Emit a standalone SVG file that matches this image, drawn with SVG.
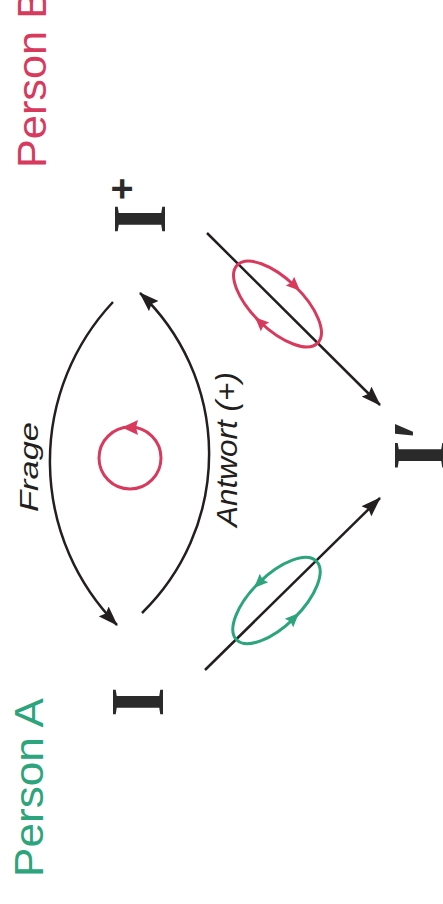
<svg xmlns="http://www.w3.org/2000/svg" width="443" height="904" viewBox="0 0 443 904">
  <style>
    .line { fill: none; stroke: #231f20; stroke-width: 2.5; }
    .red { fill: none; stroke: #d73a5c; stroke-width: 3; }
    .green { fill: none; stroke: #2ca47c; stroke-width: 3; }
    .sym { font-family: "Liberation Serif", "Times New Roman", serif; font-weight: bold; fill: #2a2a2a; }
    .lbl { font-family: "Liberation Sans", Arial, sans-serif; }
    .cap { font-family: "Liberation Sans", Arial, sans-serif; font-style: italic; fill: #231f20; }
  </style>
  <defs>
    <marker id="arrow" viewBox="0 0 20 14" markerUnits="userSpaceOnUse" markerWidth="20" markerHeight="14" refX="19" refY="7" orient="auto">
      <path d="M0,0 L20,7 L0,14 L3,7 Z" fill="#231f20"/>
    </marker>
    <path id="tip" d="M-7,-6 L7,0 L-7,6 L-5,0 Z"/>
  </defs>

  <!-- person labels -->
  <g id="person-b">
    <text class="lbl" fill="#d73a5c" font-size="40" textLength="178" lengthAdjust="spacingAndGlyphs" transform="translate(46,168) rotate(-90)">Person B</text>
  </g>
  <g id="person-a">
    <text class="lbl" fill="#2ca47c" font-size="40" textLength="179" lengthAdjust="spacingAndGlyphs" transform="translate(43,877) rotate(-90)">Person A</text>
  </g>

  <!-- states -->
  <g id="state-i">
    <text class="sym" font-size="76" text-anchor="middle" transform="translate(163,702) rotate(-90)">I</text>
  </g>
  <g id="state-i-plus">
    <text class="sym" font-size="76" text-anchor="middle" transform="translate(165,219) rotate(-90)">I</text>
    <text class="lbl" font-weight="bold" fill="#2a2a2a" font-size="38" text-anchor="middle" transform="translate(135,189) rotate(-90)">+</text>
  </g>
  <g id="state-i-prime">
    <text class="sym" font-size="76" transform="translate(445,470) rotate(-90)">I′</text>
  </g>

  <!-- connectors -->
  <g id="connectors">
    <path class="line" d="M113,302 A233,233 0 0 0 117,625" marker-end="url(#arrow)"/>
    <path class="line" d="M142,613 A222,222 0 0 0 140,293" marker-end="url(#arrow)"/>
    <line class="line" x1="207" y1="233" x2="380" y2="405" marker-end="url(#arrow)"/>
    <line class="line" x1="205" y1="670" x2="380" y2="498" marker-end="url(#arrow)"/>
  </g>

  <!-- edge labels -->
  <g id="label-frage">
    <text class="cap" font-size="26" textLength="90" lengthAdjust="spacingAndGlyphs" transform="translate(38,512) rotate(-90)">Frage</text>
  </g>
  <g id="label-antwort">
    <text class="cap" font-size="30" textLength="155" lengthAdjust="spacingAndGlyphs" transform="translate(237,527) rotate(-90)">Antwort (+)</text>
  </g>

  <!-- cycles -->
  <g id="cycle-center">
    <circle class="red" cx="130" cy="458" r="31"/>
    <path d="M122,427.5 L138,420 L136,427.5 L138,435 Z" fill="#d73a5c"/>
  </g>
  <g id="cycle-b">
    <ellipse class="red" cx="277.5" cy="304" rx="56" ry="25" transform="rotate(44 277.5 304)"/>
    <use href="#tip" fill="#d73a5c" transform="translate(295,286) rotate(44)"/>
    <use href="#tip" fill="#d73a5c" transform="translate(260,322) rotate(224)"/>
  </g>
  <g id="cycle-a">
    <ellipse class="green" cx="276.5" cy="600.5" rx="56" ry="25" transform="rotate(-44.5 276.5 600.5)"/>
    <use href="#tip" fill="#2ca47c" transform="translate(259,583) rotate(135.5)"/>
    <use href="#tip" fill="#2ca47c" transform="translate(294,618) rotate(-44.5)"/>
  </g>
</svg>
